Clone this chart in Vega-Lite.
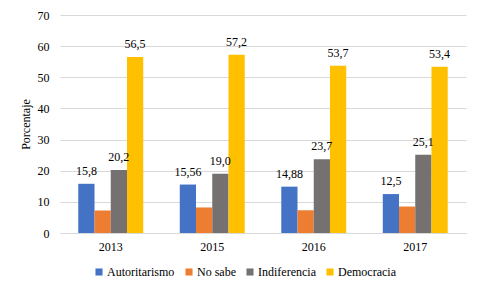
{
  "$schema": "https://vega.github.io/schema/vega-lite/v6.json",
  "autosize": {"type": "none"},
  "width": 406,
  "height": 218,
  "padding": {"left": 60, "top": 15, "right": 15, "bottom": 60},
  "background": "white",
  "config": {
    "font": "Times New Roman",
    "view": {"stroke": null},
    "text": {"font": "Times New Roman"},
    "axis": {"labelFont": "Times New Roman", "titleFont": "Times New Roman", "labelColor": "#000000", "titleColor": "#000000"},
    "legend": {"labelFont": "Times New Roman", "titleFont": "Times New Roman", "labelColor": "#000000"}
  },
  "data": {
    "values": [
      {"year": "2013", "serie": "Autoritarismo", "value": 15.8, "label": "15,8"},
      {"year": "2013", "serie": "No sabe", "value": 7.2, "label": ""},
      {"year": "2013", "serie": "Indiferencia", "value": 20.2, "label": "20,2"},
      {"year": "2013", "serie": "Democracia", "value": 56.5, "label": "56,5"},
      {"year": "2015", "serie": "Autoritarismo", "value": 15.56, "label": "15,56"},
      {"year": "2015", "serie": "No sabe", "value": 8.2, "label": ""},
      {"year": "2015", "serie": "Indiferencia", "value": 19.0, "label": "19,0"},
      {"year": "2015", "serie": "Democracia", "value": 57.2, "label": "57,2"},
      {"year": "2016", "serie": "Autoritarismo", "value": 14.88, "label": "14,88"},
      {"year": "2016", "serie": "No sabe", "value": 7.3, "label": ""},
      {"year": "2016", "serie": "Indiferencia", "value": 23.7, "label": "23,7"},
      {"year": "2016", "serie": "Democracia", "value": 53.7, "label": "53,7"},
      {"year": "2017", "serie": "Autoritarismo", "value": 12.5, "label": "12,5"},
      {"year": "2017", "serie": "No sabe", "value": 8.5, "label": ""},
      {"year": "2017", "serie": "Indiferencia", "value": 25.1, "label": "25,1"},
      {"year": "2017", "serie": "Democracia", "value": 53.4, "label": "53,4"}
    ]
  },
  "encoding": {
    "x": {
      "field": "year", "type": "nominal",
      "scale": {"paddingInner": 0.36, "paddingOuter": 0.18},
      "axis": {"title": null, "labelAngle": 0, "labelFontSize": 12, "ticks": false, "domainColor": "#D9D9D9", "labelPadding": 8, "grid": false}
    },
    "xOffset": {
      "field": "serie", "type": "nominal",
      "sort": ["Autoritarismo", "No sabe", "Indiferencia", "Democracia"],
      "scale": {"paddingInner": 0, "paddingOuter": 0}
    },
    "y": {
      "field": "value", "type": "quantitative",
      "scale": {"domain": [0, 70], "nice": false},
      "axis": {"title": "Porcentaje", "titleFontWeight": "normal", "titleFontSize": 12, "titlePadding": 5, "values": [0,10,20,30,40,50,60,70], "labelOverlap": false, "labelFontSize": 12, "ticks": false, "domain": false, "gridColor": "#D9D9D9", "labelPadding": 11}
    }
  },
  "layer": [
    {
      "mark": {"type": "bar"},
      "encoding": {
        "color": {
          "field": "serie", "type": "nominal",
          "scale": {"domain": ["Autoritarismo", "No sabe", "Indiferencia", "Democracia"], "range": ["#4472C4", "#ED7D31", "#767171", "#FFC000"]},
          "legend": {"title": null, "orient": "none", "legendX": 33, "legendY": 251, "direction": "horizontal", "symbolType": "square", "symbolSize": 50, "labelFontSize": 12, "columnPadding": 8, "symbolStrokeWidth": 0, "labelOffset": 2}
        }
      }
    },
    {
      "mark": {"type": "text", "baseline": "bottom", "dy": -6, "fontSize": 12, "color": "#000000"},
      "encoding": {"text": {"field": "label"}}
    }
  ]
}
